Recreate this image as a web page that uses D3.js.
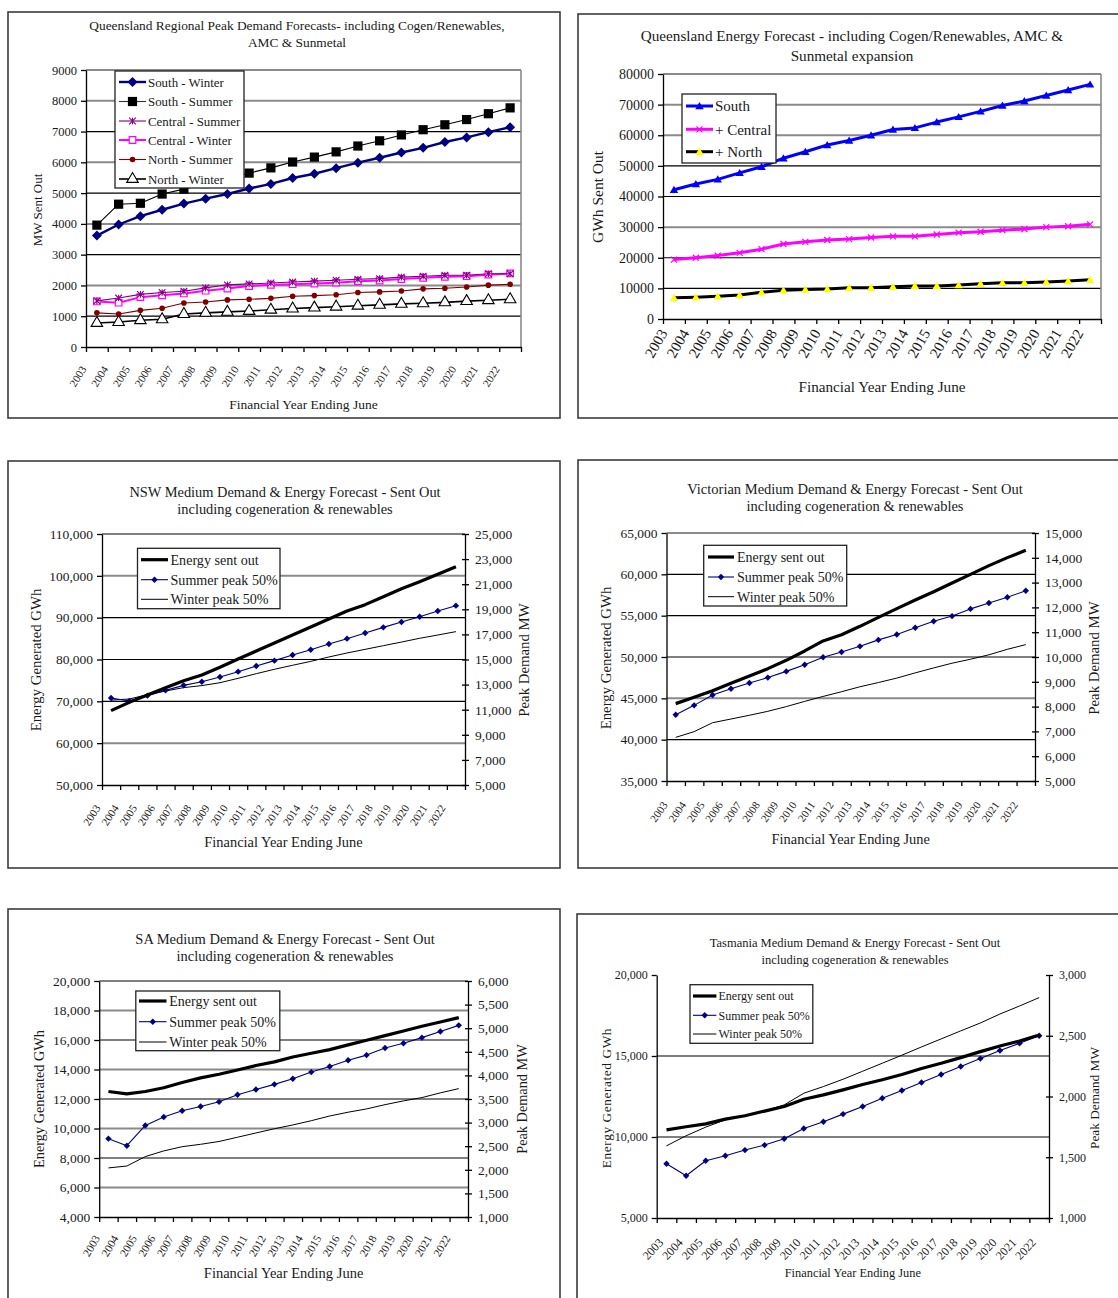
<!DOCTYPE html>
<html>
<head>
<meta charset="utf-8">
<script src="https://cdn.jsdelivr.net/npm/d3@7"></script>
<style>
  body { margin: 0; background: #fff; }
  svg { display: block; font-family: "Liberation Serif", "Times New Roman", serif; }
</style>
</head>
<body>
<svg id="chart" width="1118" height="1298"></svg>
<script>
// ---------- categories ----------
const years = ["2003","2004","2005","2006","2007","2008","2009","2010","2011","2012",
               "2013","2014","2015","2016","2017","2018","2019","2020","2021","2022"];

// ---------- Queensland regional peak demand (MW sent out) ----------
const qldPeakTicks = [0,1000,2000,3000,4000,5000,6000,7000,8000,9000];
const qldSouthWinter   = [3620,3980,4250,4460,4660,4820,4970,5150,5300,5490,5630,5810,5990,6150,6320,6470,6660,6810,6980,7140];
const qldSouthSummer   = [3960,4640,4670,4970,5130,5310,5480,5650,5820,6010,6170,6340,6530,6700,6890,7060,7220,7390,7580,7770];
const qldCentralSummer = [1500,1590,1710,1770,1810,1920,2020,2050,2080,2110,2140,2170,2200,2220,2270,2300,2330,2330,2380,2380];
const qldCentralWinter = [1480,1440,1620,1680,1740,1830,1900,1980,2020,2040,2060,2090,2140,2160,2210,2250,2280,2300,2350,2390];
const qldNorthSummer   = [1110,1070,1190,1260,1430,1460,1530,1550,1580,1650,1670,1700,1770,1790,1820,1890,1910,1950,2010,2040];
const qldNorthWinter   = [780,810,870,900,1070,1110,1140,1170,1210,1250,1280,1310,1340,1370,1400,1420,1450,1490,1520,1550];

// ---------- Queensland energy (GWh sent out) ----------
const qldEnergyTicks   = [0,10000,20000,30000,40000,50000,60000,70000,80000];
const qldEnergySouth   = [42200,44100,45600,47700,49700,52500,54600,56800,58300,60000,61900,62400,64300,66000,67800,69700,71200,73000,74800,76600];
const qldEnergyCentral = [19400,20000,20700,21600,22800,24500,25200,25800,26100,26600,27000,27000,27600,28200,28500,29000,29400,30000,30300,30900];
const qldEnergyNorth   = [6900,7100,7400,7800,8700,9400,9600,9800,10200,10200,10500,10800,10800,11100,11500,11800,11800,12100,12400,12800];

// ---------- NSW ----------
const nswEnergyTicks = [50000,60000,70000,80000,90000,100000,110000];
const nswPeakTicks   = [5000,7000,9000,11000,13000,15000,17000,19000,21000,23000,25000];
const nswEnergy = [67770,69760,71510,73270,74940,76300,78130,80120,82030,83940,85860,87770,89680,91590,93110,95020,96930,98610,100360,102190];
const nswSummer = [11930,11690,12120,12540,12940,13230,13610,14030,14480,14910,15360,15780,16240,16660,17110,17560,17990,18410,18860,19290];
const nswWinter = [11770,11850,12200,12490,12760,12920,13150,13500,13870,14220,14540,14850,15200,15520,15810,16100,16390,16690,16950,17220];

// ---------- Victoria ----------
const vicEnergyTicks = [35000,40000,45000,50000,55000,60000,65000];
const vicPeakTicks   = [5000,6000,7000,8000,9000,10000,11000,12000,13000,14000,15000];
const vicEnergy = [44360,45120,45930,46820,47700,48590,49600,50730,51940,52700,53710,54800,55850,56900,57900,58950,60000,61050,62020,62900];
const vicSummer = [7670,8050,8470,8720,8950,9170,9420,9690,9990,10200,10430,10690,10910,11180,11440,11650,11940,12180,12410,12670];
const vicWinter = [6760,6990,7350,7500,7650,7810,8000,8210,8410,8600,8800,8970,9150,9360,9560,9750,9910,10090,10310,10500];

// ---------- South Australia ----------
const saEnergyTicks = [4000,6000,8000,10000,12000,14000,16000,18000,20000];
const saPeakTicks   = [1000,1500,2000,2500,3000,3500,4000,4500,5000,5500,6000];
const saEnergy = [12510,12350,12510,12760,13120,13430,13680,13970,14270,14520,14850,15100,15350,15670,15980,16300,16610,16930,17220,17520];
const saSummer = [2660,2510,2940,3120,3250,3340,3440,3590,3700,3810,3930,4070,4190,4320,4430,4580,4680,4800,4930,5060];
const saWinter = [2040,2080,2280,2400,2490,2540,2600,2690,2780,2870,2950,3040,3140,3220,3290,3380,3460,3530,3630,3720];

// ---------- Tasmania ----------
const tasEnergyTicks = [5000,10000,15000,20000];
const tasPeakTicks   = [1000,1500,2000,2500,3000];
const tasEnergy = [10440,10630,10810,11100,11310,11600,11880,12330,12600,12910,13240,13530,13860,14230,14550,14900,15270,15620,15930,16300];
const tasSummer = [1446,1348,1471,1512,1559,1600,1652,1737,1792,1855,1918,1986,2049,2115,2181,2247,2312,2378,2438,2500];
const tasWinter = [1594,1677,1748,1808,1846,1882,1931,2027,2082,2142,2208,2274,2340,2408,2474,2540,2605,2679,2745,2814];

// ---------- marker shapes (centred on 0,0) ----------
const markers = {
  diamond:  s => `M0,${-s}L${s},0L0,${s}L${-s},0Z`,
  square:   s => `M${-s},${-s}H${s}V${s}H${-s}Z`,
  triangle: s => `M0,${-s}L${s * 1.05},${s * 0.8}L${-s * 1.05},${s * 0.8}Z`,
  circle:   s => d3.symbol(d3.symbolCircle, Math.PI * s * s)(),
  star:     s => `M${-s},${-s}L${s},${s}M${-s},${s}L${s},${-s}M0,${-s}V${s}`,
  cross:    s => `M${-s},${-s}L${s},${s}M${-s},${s}L${s},${-s}`
};

const svg = d3.select("#chart");
const INK = "#1a1a1a";

function drawMarker(g, m, x, y) {
  g.append("path")
    .attr("transform", `translate(${x},${y})`)
    .attr("d", markers[m.marker](m.size))
    .attr("fill", m.fill || "none")
    .attr("stroke", m.stroke || "none")
    .attr("stroke-width", m.sw || 1);
}

function drawPanel(p) {
  const g = svg.append("g");

  // outer frame
  g.append("rect")
    .attr("x", p.frame[0]).attr("y", p.frame[1])
    .attr("width", p.frame[2]).attr("height", p.frame[3])
    .attr("fill", "none").attr("stroke", "#3c3c3c").attr("stroke-width", 1.6);

  // title
  p.title.forEach((t, i) => {
    g.append("text")
      .attr("x", p.titleX).attr("y", p.titleY[i]).attr("dy", "0.35em")
      .attr("text-anchor", "middle").attr("font-size", p.titleSize).attr("fill", INK)
      .text(t);
  });

  const x = d3.scaleBand().domain(years).range([p.x0, p.x1]);
  const cx = d => x(d) + x.bandwidth() / 2;
  const yL = d3.scaleLinear().domain(d3.extent(p.leftTicks)).range([p.yb, p.yt]);
  const yR = p.rightTicks ? d3.scaleLinear().domain(d3.extent(p.rightTicks)).range([p.yb, p.yt]) : null;

  // horizontal gridlines
  const topVal = p.leftTicks[p.leftTicks.length - 1];
  p.leftTicks.slice(1).forEach(v => {
    if (v === topVal && !p.topLine) return;
    const gray = p.grayGrid.includes(v);
    g.append("line")
      .attr("x1", p.x0).attr("x2", p.x1).attr("y1", yL(v)).attr("y2", yL(v))
      .attr("stroke", gray ? "#8a8a8a" : "#000").attr("stroke-width", gray ? 2 : 1.2);
  });
  // plot-area right edge when there is no secondary axis
  if (!yR) {
    g.append("line").attr("x1", p.x1).attr("x2", p.x1).attr("y1", p.yt).attr("y2", p.yb)
      .attr("stroke", "#8a8a8a").attr("stroke-width", 1.6);
  }

  // left axis
  const axL = g.append("g").attr("transform", `translate(${p.x0},0)`)
    .call(d3.axisLeft(yL).tickValues(p.leftTicks).tickSize(5).tickSizeOuter(0)
      .tickPadding(4).tickFormat(p.fmt));
  axL.attr("font-family", null).attr("font-size", p.tickSize);
  axL.selectAll("path,line").attr("stroke", "#000").attr("stroke-width", 1.3);
  axL.selectAll("text").attr("fill", INK);

  // right axis
  if (yR) {
    const axR = g.append("g").attr("transform", `translate(${p.x1},0)`)
      .call(d3.axisRight(yR).tickValues(p.rightTicks).tickSize(5).tickSizeOuter(0)
        .tickPadding(5).tickFormat(d3.format(",")));
    axR.attr("font-family", null).attr("font-size", p.tickSize);
    axR.selectAll("path,line").attr("stroke", "#000").attr("stroke-width", 1.3);
    axR.selectAll(".tick line").attr("x1", -3).attr("x2", 4);
    axR.selectAll("text").attr("fill", INK);
  }

  // bottom axis: tick marks between categories
  const xb = d3.scaleLinear().domain([0, years.length]).range([p.x0, p.x1]);
  const axB = g.append("g").attr("transform", `translate(0,${p.yb})`)
    .call(d3.axisBottom(xb).tickValues(d3.range(years.length + 1)).tickSize(5)
      .tickSizeOuter(0).tickFormat(""));
  axB.selectAll("path,line").attr("stroke", "#000").attr("stroke-width", 1.3);

  // rotated year labels
  years.forEach(yr => {
    const lx = cx(yr) + p.lblDx, ly = p.yb + p.lblDy;
    g.append("text")
      .attr("transform", `translate(${lx},${ly}) rotate(${p.lblRot})`)
      .attr("text-anchor", "end").attr("font-size", p.lblSize).attr("fill", INK)
      .text(yr);
  });

  // axis titles
  g.append("text").attr("x", (p.x0 + p.x1) / 2 + (p.xTitleDx || 0)).attr("y", p.xTitleY).attr("dy", "0.35em")
    .attr("text-anchor", "middle").attr("font-size", p.axTitleSize).attr("fill", INK).text(p.xTitle);
  g.append("text").attr("transform", `translate(${p.yTitleX},${p.yTitleY}) rotate(-90)`)
    .attr("dy", "0.35em").attr("text-anchor", "middle").attr("font-size", p.yTitleSize)
    .attr("letter-spacing", p.yTitleSpacing || 0)
    .attr("fill", INK).text(p.yTitle);
  if (p.rTitle) {
    g.append("text").attr("transform", `translate(${p.rTitleX},${p.yTitleY}) rotate(-90)`)
      .attr("dy", "0.35em").attr("text-anchor", "middle").attr("font-size", p.yTitleSize)
      .attr("fill", INK).text(p.rTitle);
  }

  // series
  p.series.forEach(s => {
    const sc = s.axis === "R" ? yR : yL;
    const pts = years.map((yr, i) => [cx(yr), sc(s.values[i])]);
    g.append("path").attr("d", d3.line()(pts))
      .attr("fill", "none").attr("stroke", s.color).attr("stroke-width", s.width)
      .attr("stroke-linejoin", "round");
    if (s.marker) pts.forEach(pt => drawMarker(g, s, pt[0], pt[1] + (s.mdy || 0)));
  });

  // legend
  const L = p.legend;
  g.append("rect").attr("x", L.x).attr("y", L.y).attr("width", L.w).attr("height", L.h)
    .attr("fill", "#fff").attr("stroke", "#222").attr("stroke-width", 1.3);
  L.order.forEach((idx, k) => {
    const s = p.series[idx];
    const ry = L.rows[k];
    g.append("line").attr("x1", L.sx0).attr("x2", L.sx1).attr("y1", ry).attr("y2", ry)
      .attr("stroke", s.legendColor || s.color).attr("stroke-width", s.width);
    if (s.marker) drawMarker(g, s, (L.sx0 + L.sx1) / 2, ry + (s.mdy || 0));
    g.append("text").attr("x", L.tx).attr("y", ry).attr("dy", "0.35em")
      .attr("font-size", L.size).attr("fill", INK).text(s.label);
  });
}

const plain = d3.format("d");
const comma = d3.format(",");

// ---------- panel 1: Queensland peak demand ----------
drawPanel({
  frame: [8, 12, 552, 406],
  title: ["Queensland Regional Peak Demand Forecasts- including Cogen/Renewables,", "AMC & Sunmetal"],
  titleX: 297, titleY: [25, 42], titleSize: 13.4,
  x0: 86, x1: 521, yt: 70, yb: 347,
  leftTicks: qldPeakTicks, fmt: plain, tickSize: 12.5,
  grayGrid: [2000, 4000, 6000, 8000, 9000], topLine: true,
  lblDx: -10, lblDy: 22, lblRot: -58, lblSize: 11,
  xTitle: "Financial Year Ending June", xTitleY: 404, axTitleSize: 13.5,
  yTitle: "MW Sent Out", yTitleX: 37, yTitleY: 210, yTitleSize: 13,
  series: [
    { label: "North - Winter", values: qldNorthWinter, color: "#000", width: 1.6, marker: "triangle", size: 5.5, fill: "#fff", stroke: "#000", sw: 1.1, mdy: -1 },
    { label: "North - Summer", values: qldNorthSummer, color: "#800000", width: 1.1, marker: "circle", size: 2.8, fill: "#800000" },
    { label: "Central - Winter", values: qldCentralWinter, color: "#ff00ff", width: 2, marker: "square", size: 3.3, fill: "#fff", stroke: "#ff00ff", sw: 1.2 },
    { label: "Central - Summer", values: qldCentralSummer, color: "#800080", width: 1.1, marker: "star", size: 3.3, stroke: "#800080", sw: 1.1 },
    { label: "South - Summer", values: qldSouthSummer, color: "#000", width: 1.1, marker: "square", size: 4.6, fill: "#000", legendColor: "#333" },
    { label: "South - Winter", values: qldSouthWinter, color: "#000080", width: 2.4, marker: "diamond", size: 5, fill: "#000080" }
  ],
  legend: { x: 115, y: 71, w: 129, h: 117, sx0: 119, sx1: 146, tx: 148, size: 12.9,
            rows: [82, 101.5, 121, 140, 159.5, 179], order: [5, 4, 3, 2, 1, 0] }
});

// ---------- panel 2: Queensland energy ----------
drawPanel({
  frame: [578, 14, 560, 404],
  title: ["Queensland Energy Forecast - including Cogen/Renewables, AMC &", "Sunmetal expansion"],
  titleX: 852, titleY: [36, 56], titleSize: 15.2,
  x0: 663, x1: 1101, yt: 74, yb: 319,
  leftTicks: qldEnergyTicks, fmt: plain, tickSize: 14,
  grayGrid: [30000, 60000, 70000, 80000], topLine: true,
  lblDx: -6, lblDy: 14, lblRot: -60, lblSize: 15,
  xTitle: "Financial Year Ending June", xTitleY: 387, axTitleSize: 15.2,
  yTitle: "GWh Sent Out", yTitleX: 598, yTitleY: 197, yTitleSize: 15.5,
  series: [
    { label: "+ North", values: qldEnergyNorth, color: "#000", width: 3, marker: "triangle", size: 4, fill: "#ffff00" },
    { label: "+ Central", values: qldEnergyCentral, color: "#ff00ff", width: 3, marker: "cross", size: 3, stroke: "#ff00ff", sw: 1.2 },
    { label: "South", values: qldEnergySouth, color: "#0000ff", width: 3, marker: "triangle", size: 4, fill: "#0000ff" }
  ],
  legend: { x: 682, y: 94, w: 94, h: 69, sx0: 686, sx1: 713, tx: 715, size: 15,
            rows: [106, 129.3, 151.7], order: [2, 1, 0] }
});

// shared style for the three-series state panels
function stateSeries(energy, summer, winter) {
  return [
    { label: "Winter peak 50%", values: winter, axis: "R", color: "#000", width: 1 },
    { label: "Summer peak 50%", values: summer, axis: "R", color: "#000080", width: 1.1, marker: "diamond", size: 3.2, fill: "#000080" },
    { label: "Energy sent out", values: energy, axis: "L", color: "#000", width: 3.2 }
  ];
}

// ---------- panel 3: NSW ----------
drawPanel({
  frame: [8, 461, 552, 407],
  title: ["NSW Medium Demand & Energy Forecast - Sent Out", "including cogeneration & renewables"],
  titleX: 285, titleY: [492, 509], titleSize: 14.4,
  x0: 102, x1: 465, yt: 534, yb: 785,
  leftTicks: nswEnergyTicks, rightTicks: nswPeakTicks, fmt: comma, tickSize: 13.5,
  grayGrid: [60000, 100000], topLine: true,
  lblDx: -10, lblDy: 23, lblRot: -57, lblSize: 11,
  xTitle: "Financial Year Ending June", xTitleY: 842, axTitleSize: 14.4,
  yTitle: "Energy Generated GWh", yTitleX: 36, yTitleY: 660, yTitleSize: 14.8,
  rTitle: "Peak Demand MW", rTitleX: 524,
  series: stateSeries(nswEnergy, nswSummer, nswWinter),
  legend: { x: 137.5, y: 548.3, w: 142.5, h: 60.4, sx0: 141, sx1: 168, tx: 170.5, size: 14.1,
            rows: [559.7, 579.7, 599.3], order: [2, 1, 0] }
});

// ---------- panel 4: Victoria ----------
drawPanel({
  frame: [578, 460, 560, 408],
  title: ["Victorian Medium Demand & Energy Forecast - Sent Out", "including cogeneration & renewables"],
  titleX: 855, titleY: [489, 506], titleSize: 14.5,
  x0: 666.5, x1: 1035, yt: 533, yb: 781,
  leftTicks: vicEnergyTicks, rightTicks: vicPeakTicks, fmt: comma, tickSize: 13.5,
  grayGrid: [45000, 65000], topLine: true,
  lblDx: -7.5, lblDy: 24, lblRot: -55, lblSize: 11,
  xTitle: "Financial Year Ending June", xTitleY: 839, axTitleSize: 14.4,
  yTitle: "Energy Generated GWh", yTitleX: 606, yTitleY: 658, yTitleSize: 14.8,
  rTitle: "Peak Demand MW", rTitleX: 1094,
  series: stateSeries(vicEnergy, vicSummer, vicWinter),
  legend: { x: 703.7, y: 545.3, w: 143, h: 60.7, sx0: 708, sx1: 734, tx: 737, size: 14,
            rows: [557, 577, 596.7], order: [2, 1, 0] }
});

// ---------- panel 5: South Australia ----------
drawPanel({
  frame: [8, 909, 552, 400],
  title: ["SA Medium Demand & Energy Forecast - Sent Out", "including cogeneration & renewables"],
  titleX: 285, titleY: [939, 956], titleSize: 14.5,
  x0: 99.2, x1: 468, yt: 981, yb: 1217,
  leftTicks: saEnergyTicks, rightTicks: saPeakTicks, fmt: comma, tickSize: 13.5,
  grayGrid: [6000, 10000, 14000, 18000], topLine: true,
  lblDx: -8, lblDy: 21, lblRot: -60, lblSize: 11.3,
  xTitle: "Financial Year Ending June", xTitleY: 1273, axTitleSize: 14.5,
  yTitle: "Energy Generated GWh", yTitleX: 39, yTitleY: 1099, yTitleSize: 14.3,
  rTitle: "Peak Demand MW", rTitleX: 522,
  series: stateSeries(saEnergy, saSummer, saWinter),
  legend: { x: 135.8, y: 991, w: 144, h: 59.7, sx0: 139, sx1: 166.5, tx: 169.3, size: 14,
            rows: [1001, 1021.7, 1042], order: [2, 1, 0] }
});

// ---------- panel 6: Tasmania ----------
drawPanel({
  frame: [577, 914, 560, 400],
  title: ["Tasmania Medium Demand & Energy Forecast - Sent Out", "including cogeneration & renewables"],
  titleX: 855, titleY: [943, 960], titleSize: 12.5,
  x0: 656.7, x1: 1049, yt: 975, yb: 1218,
  leftTicks: tasEnergyTicks, rightTicks: tasPeakTicks, fmt: comma, tickSize: 12,
  grayGrid: [], topLine: false,
  lblDx: -2.5, lblDy: 25, lblRot: -47, lblSize: 12,
  xTitle: "Financial Year Ending June", xTitleY: 1273, axTitleSize: 12.4,
  yTitle: "Energy Generated GWh", yTitleX: 606, yTitleY: 1098, yTitleSize: 13.3, yTitleSpacing: 0.6,
  rTitle: "Peak Demand MW", rTitleX: 1094,
  series: stateSeries(tasEnergy, tasSummer, tasWinter),
  legend: { x: 690, y: 984.7, w: 122.8, h: 58.6, sx0: 693, sx1: 716.4, tx: 718.5, size: 12,
            rows: [996, 1015.3, 1034], order: [2, 1, 0] }
});
</script>
</body>
</html>
